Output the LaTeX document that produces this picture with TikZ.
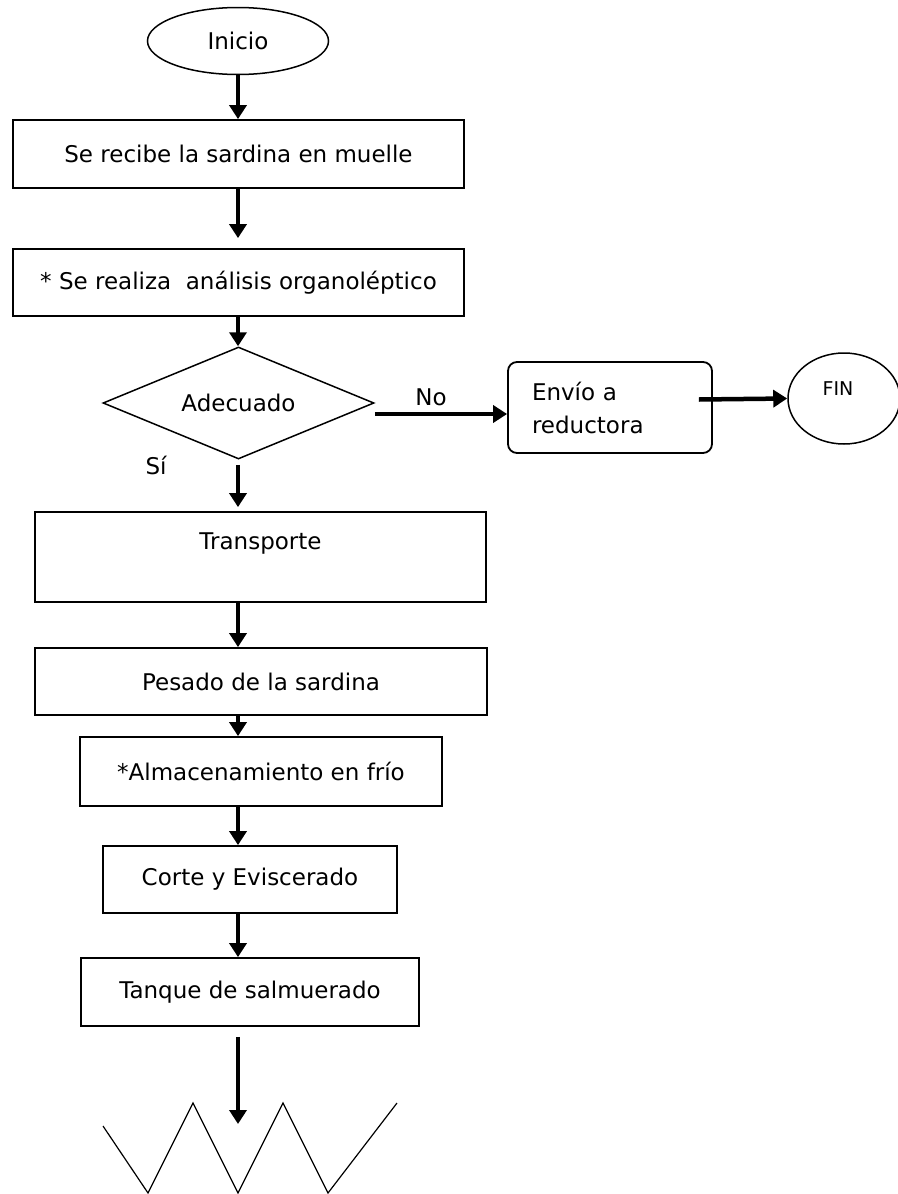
\documentclass[tikz,border=0pt]{standalone}
\usepackage{fontspec}
\setmainfont{DejaVu Sans}
\usepackage{tikz}
\usetikzlibrary{
    arrows.meta,
    positioning,
    shapes.geometric,
    calc
}
\tikzstyle{flecha} = [line width=4.5pt, -{Triangle[length=14pt,width=17pt]}]
\tikzstyle{caja} = [draw, line width=1.8pt, rectangle, inner sep=0pt]
\tikzstyle{terminal} = [draw, line width=1.5pt, ellipse, inner sep=0pt]

\begin{document}
\begin{tikzpicture}[x=1pt, y=-1pt, font=\fontsize{23}{33}\selectfont]

\useasboundingbox (0,0) rectangle (897,1194);

\def\Ejex{238}

% Inicio
\node[terminal, minimum width=181pt, minimum height=67pt] (inicio) at (\Ejex,41) {Inicio};

% Cajas del proceso
\node[caja, minimum width=451pt, minimum height=68pt] (recibe) at (238.5,154) {Se recibe la sardina en muelle};
\node[caja, minimum width=451pt, minimum height=67pt] (analisis) at (238.5,282.5) {* Se realiza\ \ análisis organoléptico};

% Decision
\node[draw, line width=1.5pt, diamond, aspect=2.4, inner sep=0pt,
      minimum width=271pt, minimum height=112pt] (adecuado) at (238.5,403) {Adecuado};

\node[draw, line width=1.8pt, rounded corners=9pt, align=left, text width=156pt,
      inner xsep=24pt, minimum height=91pt] (envio) at (610,407.5) {Envío a\\reductora};
\node[terminal, minimum width=112pt, minimum height=91pt,
      font=\fontsize{19}{22}\selectfont, text depth=19pt] (fin) at (844,398.5) {\hspace{-12pt}FIN};

\node[caja, minimum width=451pt, minimum height=90pt, text depth=31pt] (transporte) at (260.5,557) {Transporte};
\node[caja, minimum width=452pt, minimum height=67pt] (pesado) at (261,681.5) {Pesado de la sardina};
\node[caja, minimum width=362pt, minimum height=69pt] (almacen) at (261,771.5) {*Almacenamiento en frío};
\node[caja, minimum width=294pt, minimum height=67pt] (corte) at (250,879.5) {Corte y Eviscerado};
\node[caja, minimum width=338pt, minimum height=68pt] (tanque) at (250,992) {Tanque de salmuerado};

% Etiquetas
\node (si) at (156,465) {Sí};
\node (no) at (431,397) {No};

% Flechas
\draw[flecha] (inicio.south) -- (recibe.north -| inicio.south);
\draw[flecha, shorten >=10pt] (recibe.south -| inicio.south) -- (analisis.north -| inicio.south);
\draw[flecha] (analisis.south -| inicio.south) -- (adecuado.north -| inicio.south);
\draw[flecha, shorten <=5pt, shorten >=4pt] (adecuado.south -| inicio.south) -- (transporte.north -| inicio.south);
\draw[flecha] ($(adecuado.east)+(0,11)$) -- ($(envio.west)+(0,6.5)$);
\draw[flecha] ($(envio.east)+(-14,-8)$) -- (fin.west);
\draw[flecha] (transporte.south -| inicio.south) -- (pesado.north -| inicio.south);
\draw[flecha] (pesado.south -| inicio.south) -- (almacen.north -| inicio.south);
\draw[flecha] (almacen.south -| inicio.south) -- (corte.north -| inicio.south);
\draw[flecha] (corte.south -| inicio.south) -- (tanque.north -| inicio.south);

% Zigzag final
\coordinate (punta) at (\Ejex,1124);
\draw[flecha, shorten <=10pt] (tanque.south -| inicio.south) -- (punta);
\draw[line width=1.2pt] (103,1126) -- (148,1193) -- (193,1103) -- (238,1193)
    -- (283,1103) -- (328,1193) -- (397,1103);

\end{tikzpicture}
\end{document}
